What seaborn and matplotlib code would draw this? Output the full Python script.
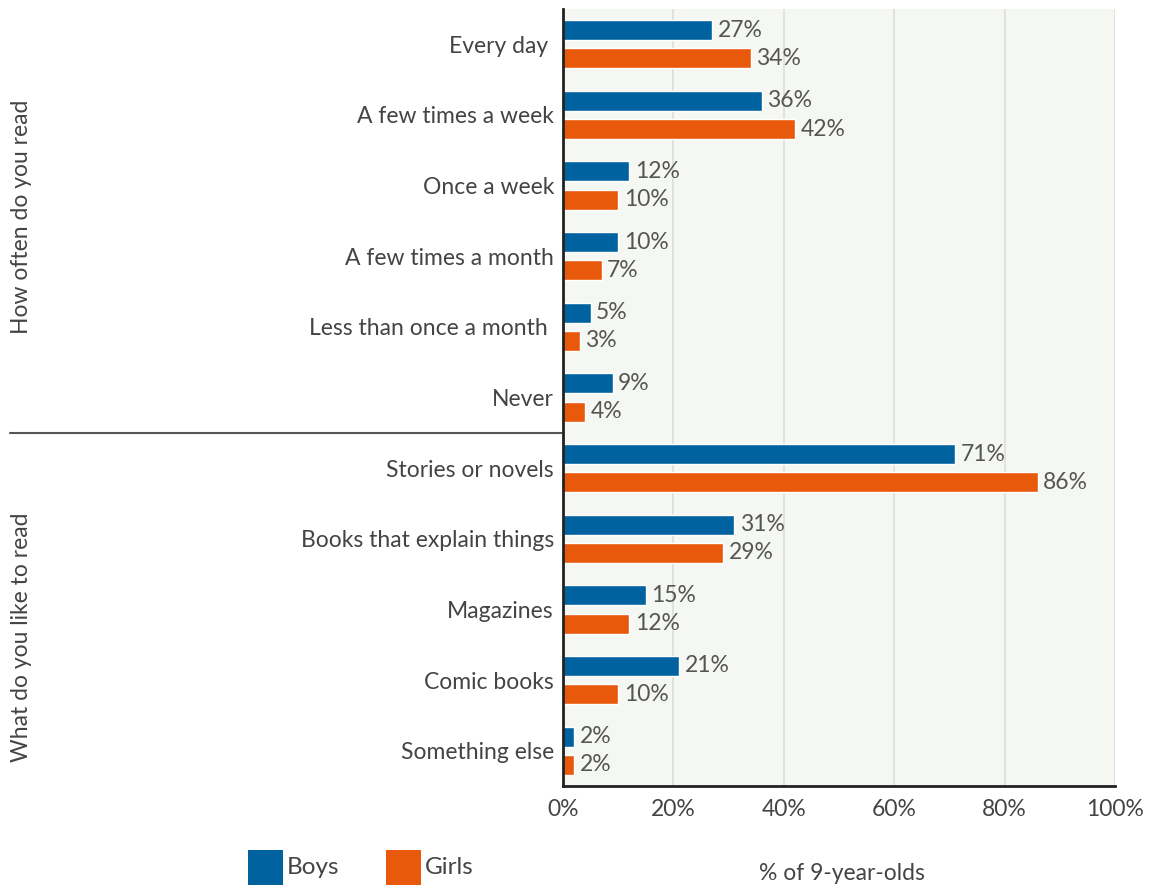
import matplotlib
matplotlib.use("Agg")
import matplotlib.pyplot as plt
import matplotlib.transforms as mtransforms
from matplotlib.patches import Rectangle
import seaborn as sns
import pandas as pd

categories = ["Every day ", "A few times a week", "Once a week", "A few times a month",
              "Less than once a month ", "Never", "Stories or novels",
              "Books that explain things", "Magazines", "Comic books", "Something else"]
boys = [27, 36, 12, 10, 5, 9, 71, 31, 15, 21, 2]
girls = [34, 42, 10, 7, 3, 4, 86, 29, 12, 10, 2]
series = ["Boys", "Girls"]
group_labels = ["How often do you read", "What do you like to read"]
x_ticks = [0, 20, 40, 60, 80, 100]

BLUE = "#0063A0"
ORANGE = "#E8590C"
TXT = "#444444"
FS = 16.5

df = pd.DataFrame({
    "category": categories * 2,
    "value": boys + girls,
    "series": [series[0]] * len(categories) + [series[1]] * len(categories),
})

sns.set_theme(style="white")
plt.rcParams["font.family"] = ["Lato", "DejaVu Sans"]

fig = plt.figure(figsize=(11.5, 8.88), dpi=100)
ax = fig.add_axes([563 / 1150, 102 / 888, 552 / 1150, 777 / 888])
ax.set_facecolor("#F5F8F2")

sns.barplot(data=df, y="category", x="value", hue="series", order=categories,
            hue_order=series, palette=[BLUE, ORANGE], width=0.8, gap=0.29,
            orient="h", legend=False, ax=ax, saturation=1)

ax.set_xlim(0, 100)
ax.set_ylim(len(categories) - 0.5, -0.5)
ax.set_xticks(x_ticks)
ax.set_xticklabels([f"{t}%" for t in x_ticks], fontsize=FS, color=TXT)
ax.tick_params(axis="y", labelsize=FS, labelcolor=TXT, length=0, pad=6.5)
ax.tick_params(axis="x", length=0, pad=9)
ax.set_ylabel("")
ax.set_xlabel("")
ax.grid(axis="x", color="#DDDDDD", lw=1.2)
ax.set_axisbelow(True)
for s in ["top", "right"]:
    ax.spines[s].set_visible(False)
for s in ["left", "bottom"]:
    ax.spines[s].set_color("#222222")
    ax.spines[s].set_linewidth(2)

for cont in ax.containers:
    ax.bar_label(cont, labels=[f"{v:.0f}%" for v in cont.datavalues],
                 padding=4, fontsize=FS, color="#555555")

# divider between groups
trans = mtransforms.blended_transform_factory(ax.transAxes, ax.transData)
ax.plot([-1.002, 0], [5.5, 5.5], transform=trans, color="#555555", lw=1.5,
        clip_on=False)

# group labels
fig.text(22 / 1150, 1 - 217 / 888, group_labels[0], rotation=90, ha="center",
         va="center", fontsize=FS, color=TXT)
fig.text(22 / 1150, 1 - 637 / 888, group_labels[1], rotation=90, ha="center",
         va="center", fontsize=FS, color=TXT)

# x axis title
fig.text(842 / 1150, 1 - 873 / 888, "% of 9-year-olds", ha="center", va="center",
         fontsize=FS, color=TXT)

# legend (manual squares)
for x0, col, lab in [(248, BLUE, series[0]), (386, ORANGE, series[1])]:
    fig.patches.append(Rectangle((x0 / 1150, 1 - 885 / 888), 35 / 1150, 35 / 888,
                                 transform=fig.transFigure, facecolor=col,
                                 edgecolor="none"))
    fig.text((x0 + 39) / 1150, 1 - 867 / 888, lab, ha="left", va="center",
             fontsize=17.5, color=TXT)

fig.savefig("out.png", dpi=100)
